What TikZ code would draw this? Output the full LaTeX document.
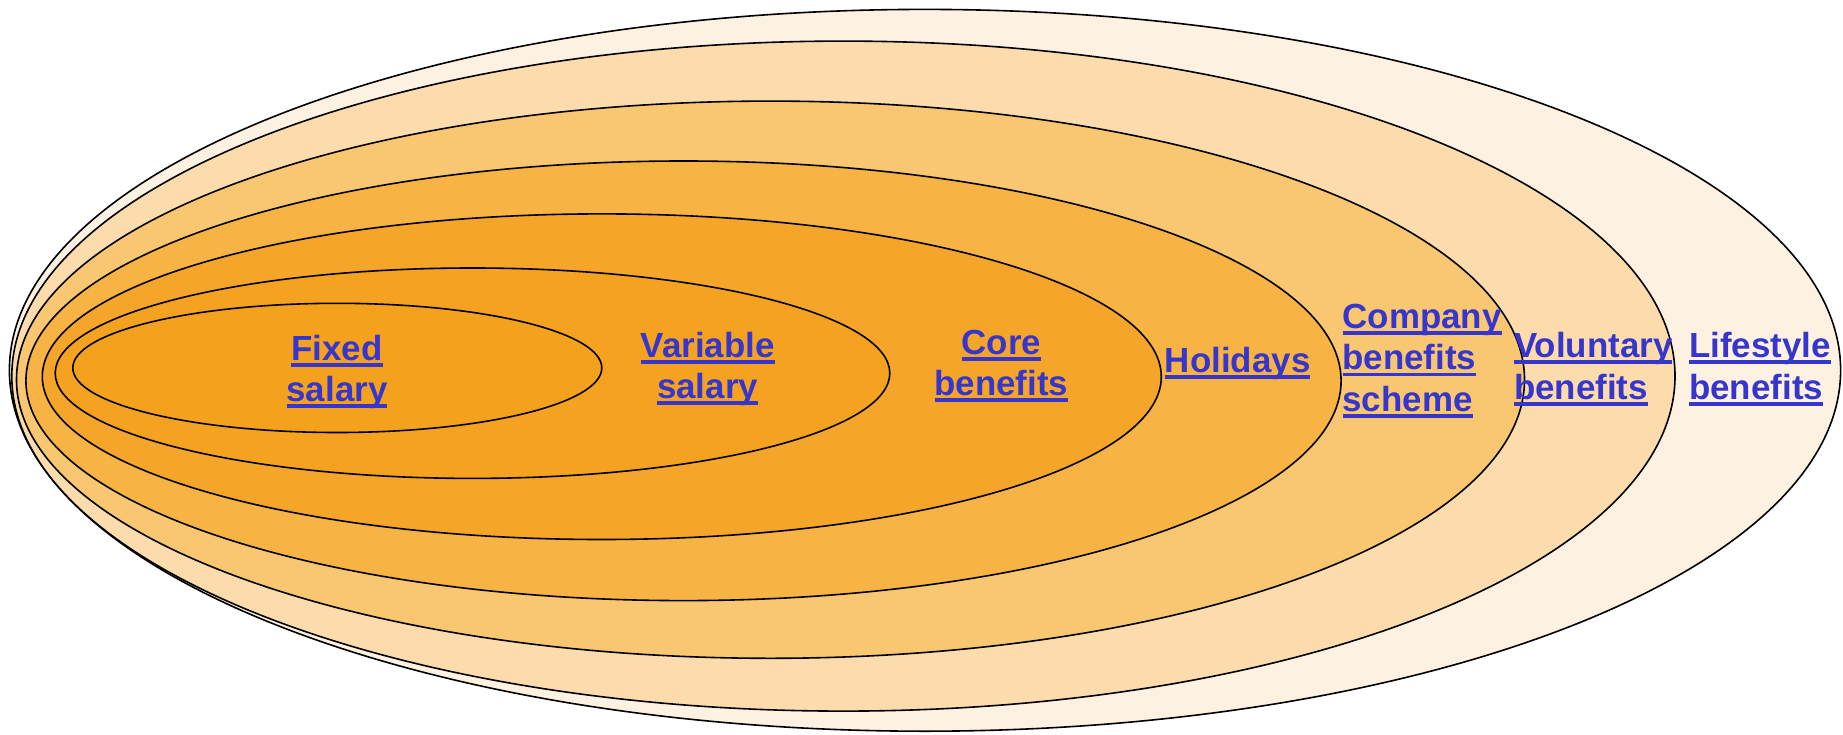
\documentclass[tikz,border=0pt]{standalone}
\usepackage{fontspec}
\setmainfont{Liberation Sans}
\definecolor{cA}{HTML}{F4A11E}
\definecolor{cB}{HTML}{F4A220}
\definecolor{cC}{HTML}{F5A62A}
\definecolor{cD}{HTML}{F7B444}
\definecolor{cE}{HTML}{F9C672}
\definecolor{cF}{HTML}{FCDCAC}
\definecolor{cG}{HTML}{FDF2E2}
\definecolor{linkblue}{RGB}{54,54,204}
\newsavebox\ulbox
\newcommand\myul[1]{\sbox\ulbox{#1}\leavevmode\rlap{\rule[-6.6pt]{\wd\ulbox}{3.9pt}}\usebox\ulbox}
\tikzset{
  ring/.style={draw=black, line width=1.6pt},
  lbl/.style={font=\fontsize{34.9}{41.5}\selectfont\bfseries, text=linkblue, inner sep=0pt},
  lblc/.style={lbl, align=center},
  lbll/.style={lbl, align=left, anchor=west}
}
\begin{document}
\begin{tikzpicture}[x=1pt,y=-1pt]
\useasboundingbox (0,0) rectangle (1843,735);
\draw[ring, fill=cG] (925.0,370.3) ellipse [x radius=915.6pt, y radius=360.9pt];
\draw[ring, fill=cF] (843.4,376.1) ellipse [x radius=831.6pt, y radius=335.0pt];
\draw[ring, fill=cE] (770.5,379.7) ellipse [x radius=754.0pt, y radius=278.6pt];
\draw[ring, fill=cD] (683.5,380.8) ellipse [x radius=657.6pt, y radius=219.8pt];
\draw[ring, fill=cC] (601.8,376.7) ellipse [x radius=559.5pt, y radius=162.8pt];
\draw[ring, fill=cB] (472.5,373.2) ellipse [x radius=417.3pt, y radius=105.2pt];
\draw[ring, fill=cA] (337.3,367.9) ellipse [x radius=264.5pt, y radius=64.6pt];
\node[lblc] (fixed) at (337,372) {\myul{Fixed}\\\myul{salary}};
\node[lblc] (variable) at (707.6,369) {\myul{Variable}\\\myul{salary}};
\node[lblc] (core) at (1001.4,366) {\myul{Core}\\\myul{benefits}};
\node[lblc] (holidays) at (1237.7,363) {\myul{Holidays}};
\node[lbll] (company) at (1342.3,361) {\myul{Company}\\\myul{benefits}\\\myul{scheme}};
\node[lbll] (voluntary) at (1513.9,369) {\myul{Voluntary}\\\myul{benefits}};
\node[lbll] (lifestyle) at (1689,369) {\myul{Lifestyle}\\\myul{benefits}};
\end{tikzpicture}
\end{document}
